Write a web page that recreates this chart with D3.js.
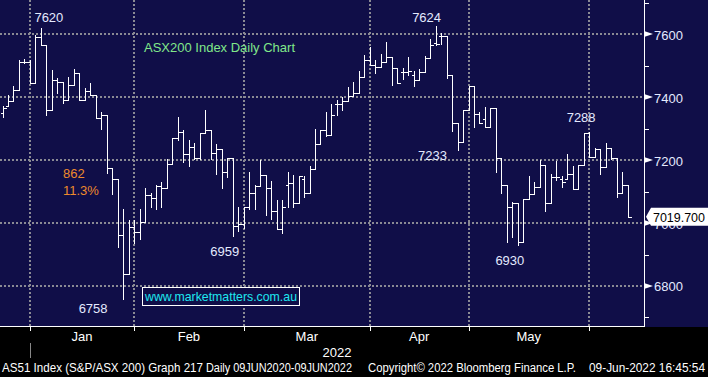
<!DOCTYPE html>
<html>
<head>
<meta charset="utf-8">
<script src="https://cdn.jsdelivr.net/npm/d3@7"></script>
<style>
  html, body { margin: 0; padding: 0; background: #000; }
  svg { display: block; font-family: "Liberation Sans", Arial, sans-serif; }
</style>
</head>
<body>
<div id="chart"></div>
<script>
// Daily OHLC, 23 Dec 2021 -> 9 Jun 2022
const opens = [7348,7371,7387,7422,7512,7512,7443,7589,7565,7359,7454,7449,7390,7438,7475,7390,7420,7406,7332,7343,
  7174,7139,6962,6838,6988,6972,7004,7089,7078,7117,7110,7186,7269,7288,7219,7242,7205,7285,7295,7221,
  7234,7163,7205,6990,6997,7050,7096,7117,7152,7110,7038,6980,7120,7128,7062,7140,7096,7173,7250,7295,
  7279,7378,7378,7387,7404,7412,7462,7517,7502,7494,7512,7526,7491,7480,7480,7470,7454,7480,7523,7570,
  7594,7594,7470,7316,7258,7359,7435,7346,7330,7304,7364,7205,7121,7050,7062,6941,7075,7091,7113,7184,
  7062,7145,7139,7139,7156,7107,7184,7285,7210,7234,7177,7237,7205,7094,7121];
const highs = [7371,7406,7435,7517,7520,7517,7597,7620,7565,7486,7459,7449,7465,7488,7475,7428,7443,7406,7353,7343,
  7174,7139,7043,7009,7009,7046,7110,7094,7121,7131,7202,7269,7338,7295,7263,7253,7287,7359,7295,7251,
  7234,7205,7205,7050,7050,7162,7121,7200,7152,7133,7073,7073,7161,7152,7149,7149,7181,7297,7295,7351,
  7378,7390,7401,7431,7449,7484,7533,7558,7517,7537,7576,7526,7491,7491,7526,7484,7488,7530,7583,7624,
  7604,7594,7470,7316,7359,7435,7435,7353,7367,7364,7364,7205,7121,7068,7064,7075,7149,7131,7200,7184,
  7155,7198,7149,7219,7181,7184,7285,7288,7237,7234,7255,7237,7205,7163,7121];
const lows = [7335,7371,7387,7422,7507,7443,7443,7565,7343,7359,7412,7380,7390,7438,7390,7390,7406,7332,7300,7158,
  7092,6923,6758,6838,6935,6948,7004,7050,7046,7050,7110,7186,7263,7195,7181,7202,7202,7285,7202,7156,
  7110,7147,6959,6976,6983,7043,7043,7117,7025,7012,6980,6969,7052,7052,7062,7084,7096,7173,7250,7277,
  7279,7343,7359,7387,7404,7412,7462,7502,7477,7494,7512,7438,7443,7456,7470,7435,7454,7480,7523,7565,
  7567,7459,7293,7233,7258,7359,7304,7316,7304,7304,7163,7094,6941,6957,6930,6941,7075,7091,7113,7039,
  7062,7136,7115,7139,7107,7107,7184,7210,7210,7155,7177,7202,7084,7094,7018];
const closes = [7364,7387,7422,7512,7512,7443,7589,7565,7359,7454,7449,7390,7438,7475,7390,7420,7406,7332,7343,7174,
  7139,6962,6838,6988,6972,7004,7089,7078,7117,7110,7186,7269,7288,7219,7242,7205,7285,7295,7221,7234,
  7163,7205,6990,6997,7050,7096,7117,7152,7110,7038,6980,7052,7128,7062,7149,7096,7173,7250,7295,7279,
  7343,7378,7387,7404,7412,7462,7517,7502,7494,7512,7526,7491,7443,7480,7484,7454,7480,7523,7565,7568,
  7594,7470,7316,7258,7359,7435,7346,7316,7304,7364,7205,7121,7052,7062,6941,7075,7091,7113,7184,7062,
  7145,7147,7131,7156,7107,7184,7285,7210,7234,7177,7237,7205,7094,7121,7020];

// first trading day of each month (bar index)
const monthNames = ["Jan", "Feb", "Mar", "Apr", "May"];
const monthStarts = [5, 24, 44, 67, 85, 107];

const majorTicks = [6800, 7000, 7200, 7400, 7600];
const minorTicks = [6700, 6900, 7100, 7300, 7500, 7700];
const lastPrice = "7019.700";

// extreme labels: bar index, text, which end of the bar
const extremes = [
  { i: 7, text: "7620", end: "high" },
  { i: 22, text: "6758", end: "low" },
  { i: 42, text: "6959", end: "low" },
  { i: 79, text: "7624", end: "high" },
  { i: 83, text: "7233", end: "low" },
  { i: 94, text: "6930", end: "low" },
  { i: 107, text: "7288", end: "high" }
];
const dropLabels = ["862", "11.3%"];

const footer = [
  "AS51 Index (S&P/ASX 200) Graph 217",
  "Daily 09JUN2020-09JUN2022",
  "Copyright\u00A9 2022 Bloomberg Finance L.P.",
  "09-Jun-2022 16:45:54"
];

const width = 708;
const height = 377;
const plotW = 644;
const plotH = 326;
const navy = "#100e48";
const gridColor = "#8a8a94";
const textColor = "#e4eaff";

const svg = d3.select("#chart")
  .append("svg")
    .attr("width", width)
    .attr("height", height);

svg.append("rect").attr("width", width).attr("height", height).attr("fill", "#000");
svg.append("rect").attr("width", width).attr("height", plotH + 1).attr("fill", navy);

const x = d3.scaleLinear().domain([0, 114]).range([2.5, 627.5]);
const y = d3.scaleLinear().domain([6673, 7708]).range([plotH, 0]);
const px = v => Math.round(v) + 0.5;

// Grid
const grid = svg.append("g")
    .attr("stroke", gridColor)
    .attr("stroke-width", 2)
    .attr("stroke-dasharray", "2 2");
grid.selectAll(".hgrid")
  .data(majorTicks)
  .join("line")
    .attr("x1", 0)
    .attr("x2", plotW)
    .attr("y1", d => Math.round(y(d)))
    .attr("y2", d => Math.round(y(d)));
grid.selectAll(".vgrid")
  .data(monthStarts)
  .join("line")
    .attr("x1", d => Math.round(x(d)))
    .attr("x2", d => Math.round(x(d)))
    .attr("y1", 0)
    .attr("y2", plotH);

// OHLC bars
const bars = svg.append("g")
    .attr("stroke", "#fff")
    .attr("stroke-width", 1)
    .attr("shape-rendering", "crispEdges")
  .selectAll("g")
  .data(d3.range(opens.length))
  .join("g");
bars.append("line")
    .attr("x1", i => px(x(i)))
    .attr("x2", i => px(x(i)))
    .attr("y1", i => Math.round(y(highs[i])))
    .attr("y2", i => Math.round(y(lows[i])) + 1);
bars.append("line")
    .attr("x1", i => px(x(i)) - 3)
    .attr("x2", i => px(x(i)))
    .attr("y1", i => px(y(opens[i])))
    .attr("y2", i => px(y(opens[i])));
bars.append("line")
    .attr("x1", i => px(x(i)))
    .attr("x2", i => px(x(i)) + 3)
    .attr("y1", i => px(y(closes[i])))
    .attr("y2", i => px(y(closes[i])));

// Axis frame
const frame = svg.append("g")
    .attr("stroke", "#fff")
    .attr("shape-rendering", "crispEdges");
frame.append("line")
    .attr("x1", 0).attr("x2", plotW + 1)
    .attr("y1", plotH + 0.5).attr("y2", plotH + 0.5);
frame.append("line")
    .attr("x1", plotW + 0.5).attr("x2", plotW + 0.5)
    .attr("y1", 0).attr("y2", plotH);
frame.selectAll(".xtick")
  .data(monthStarts)
  .join("line")
    .attr("x1", d => px(x(d)))
    .attr("x2", d => px(x(d)))
    .attr("y1", plotH)
    .attr("y2", plotH + 5);
frame.selectAll(".minor")
  .data(minorTicks)
  .join("line")
    .attr("x1", plotW)
    .attr("x2", plotW + 5)
    .attr("y1", d => px(y(d)))
    .attr("y2", d => px(y(d)));
// year divider
svg.append("line")
    .attr("x1", px(x(monthStarts[0])))
    .attr("x2", px(x(monthStarts[0])))
    .attr("y1", 343)
    .attr("y2", 358)
    .attr("stroke", "#888");

// Right axis labels with arrow markers
svg.append("g")
    .attr("fill", "#fff")
  .selectAll("path")
  .data(majorTicks)
  .join("path")
    .attr("d", d => `M${plotW},${y(d) - 3}L${plotW + 9},${y(d)}L${plotW},${y(d) + 3}Z`);
svg.append("g")
    .attr("fill", textColor)
    .attr("font-size", 13)
    .attr("dominant-baseline", "central")
  .selectAll("text")
  .data(majorTicks)
  .join("text")
    .attr("x", 654)
    .attr("y", d => y(d) + 1)
    .text(d => d);

// Last price tag
const yLast = y(+lastPrice);
svg.append("path")
    .attr("d", `M646,${yLast}L651,${yLast - 9}H708V${yLast + 9}H651Z`)
    .attr("fill", "#fff");
svg.append("text")
    .attr("x", 653)
    .attr("y", yLast + 5)
    .attr("font-size", 13)
    .attr("textLength", 52)
    .attr("lengthAdjust", "spacingAndGlyphs")
    .attr("fill", "#000")
    .text(lastPrice);

// Extreme labels
const labelOffsets = {
  "7620": [8, -6], "6758": [-30, 14], "6959": [-8, 20], "7624": [-9, -4],
  "7233": [-25, 10], "6930": [-8, 20], "7288": [-8, -10]
};
svg.append("g")
    .attr("fill", textColor)
    .attr("font-size", 13)
    .attr("text-anchor", "middle")
  .selectAll("text")
  .data(extremes)
  .join("text")
    .attr("x", d => x(d.i) + labelOffsets[d.text][0])
    .attr("y", d => y(d.end === "high" ? highs[d.i] : lows[d.i]) + labelOffsets[d.text][1])
    .text(d => d.text);

// Title and annotations
svg.append("text")
    .attr("x", 144)
    .attr("y", 52)
    .attr("font-size", 13)
    .attr("fill", "#80e88a")
    .text("ASX200 Index Daily Chart");
svg.append("g")
    .attr("fill", "#ee8a2c")
    .attr("font-size", 13)
  .selectAll("text")
  .data(dropLabels)
  .join("text")
    .attr("x", 63)
    .attr("y", (d, i) => 178 + i * 17)
    .text(d => d);

svg.append("rect")
    .attr("x", 142.5)
    .attr("y", 287.5)
    .attr("width", 157)
    .attr("height", 18)
    .attr("fill", navy)
    .attr("stroke", "#fff");
svg.append("text")
    .attr("x", 145)
    .attr("y", 301)
    .attr("font-size", 13)
    .attr("textLength", 152)
    .attr("lengthAdjust", "spacingAndGlyphs")
    .attr("fill", "#1ee8f0")
    .text("www.marketmatters.com.au");

// Month labels
const narrow = "'Liberation Sans Narrow', 'Arial Narrow', 'Liberation Sans', sans-serif";
svg.append("g")
    .attr("fill", "#fff")
    .attr("font-size", 13)
    .attr("font-family", narrow)
    .attr("text-anchor", "middle")
  .selectAll("text")
  .data(monthNames)
  .join("text")
    .attr("x", (d, i) => (x(monthStarts[i]) + x(monthStarts[i + 1])) / 2)
    .attr("y", 341)
    .text(d => d);
svg.append("text")
    .attr("x", 337)
    .attr("y", 357)
    .attr("font-size", 13)
    .attr("font-family", narrow)
    .attr("text-anchor", "middle")
    .attr("fill", "#fff")
    .text("2022");

// Footer
const footerX = [2, 206, 368, 589];
const footerW = [201, 146, 208, 116];
svg.append("g")
    .attr("fill", "#fff")
    .attr("font-size", 12)
    .attr("font-family", narrow)
  .selectAll("text")
  .data(footer)
  .join("text")
    .attr("x", (d, i) => footerX[i])
    .attr("y", 372)
    .attr("textLength", (d, i) => footerW[i])
    .attr("lengthAdjust", "spacingAndGlyphs")
    .text(d => d);
</script>
</body>
</html>
